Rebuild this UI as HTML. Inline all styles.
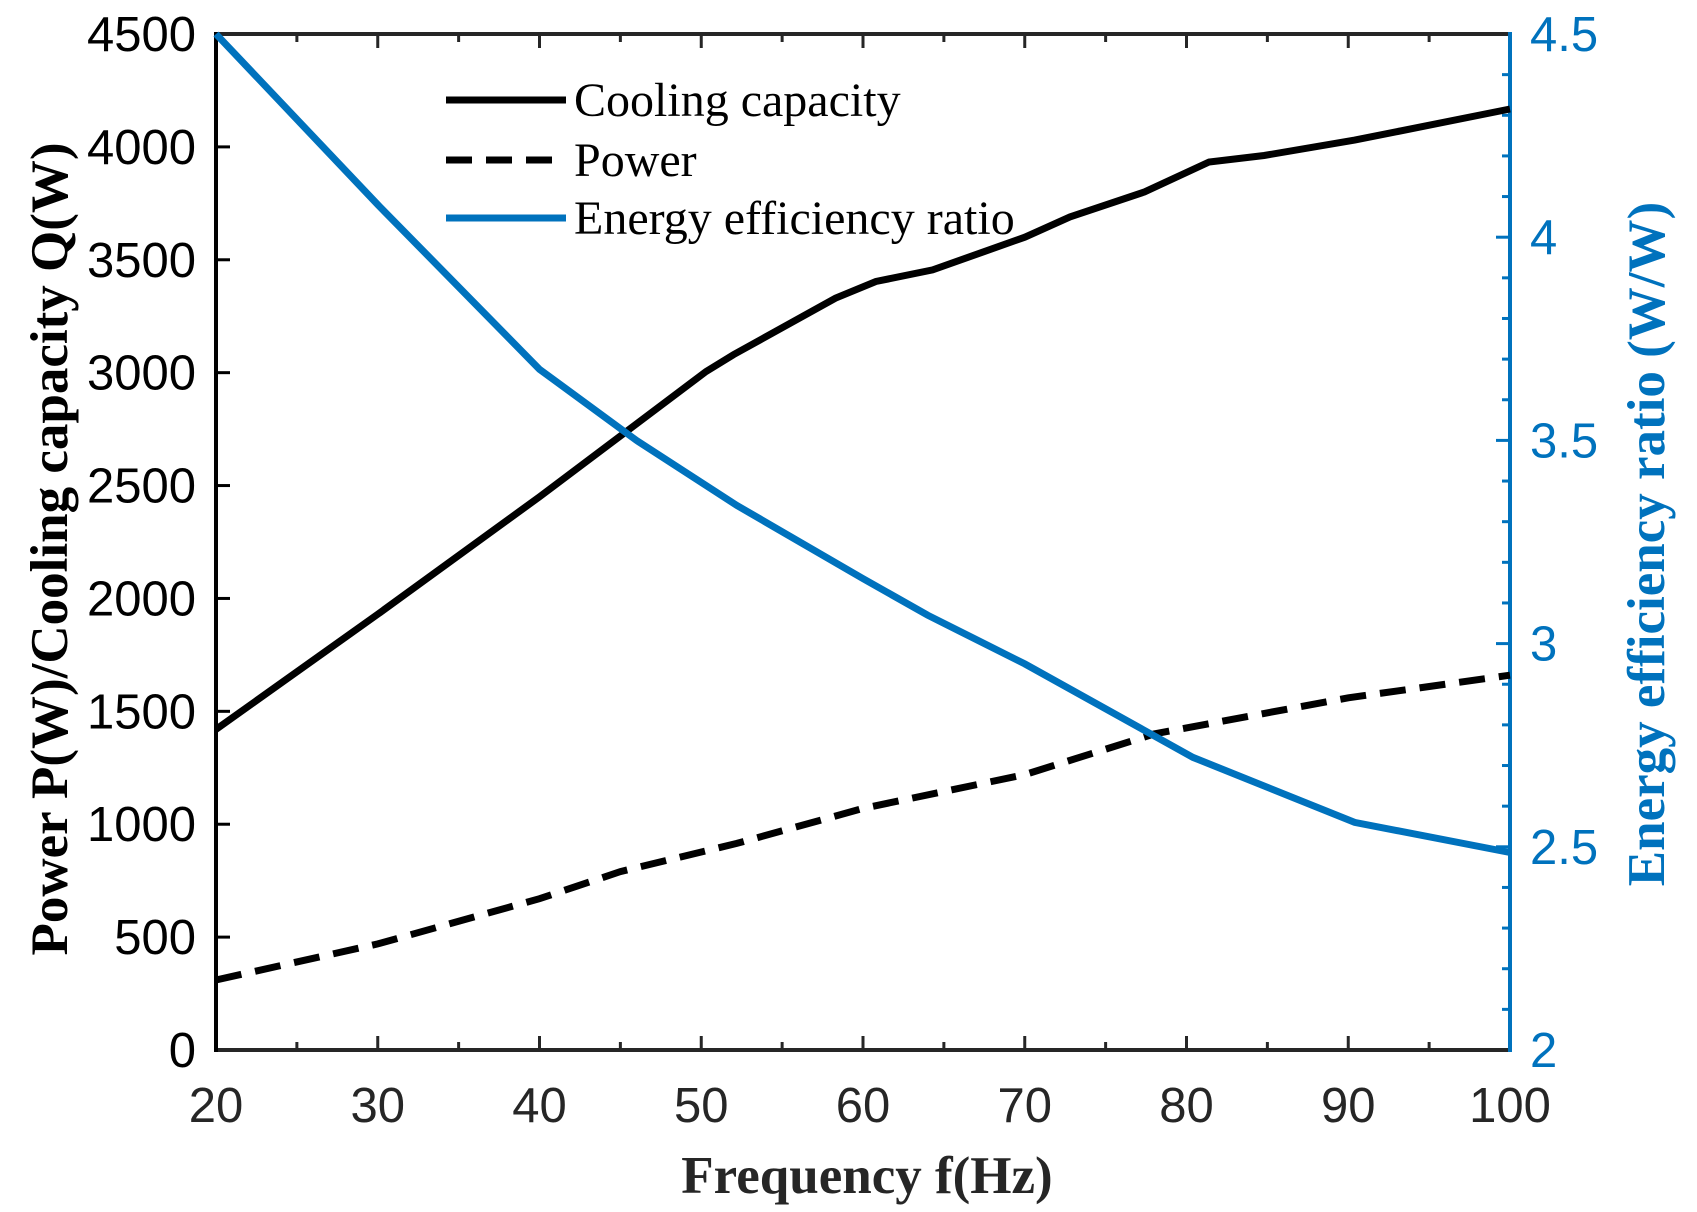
<!DOCTYPE html><html><head><meta charset="utf-8"><style>body{margin:0;background:#fff}svg{display:block}</style></head><body>
<svg id="s" width="1697" height="1212" viewBox="0 0 1697 1212" xmlns="http://www.w3.org/2000/svg"></svg>
<script>
const L=216,R=1510,T=34,B=1050;
const X=f=>L+(f-20)/80*(R-L), Y=v=>B-v/4500*(B-T), Y2=v=>B-(v-2)/2.5*(B-T);
let h='';
const line=(x1,y1,x2,y2,c,w,d)=>h+=`<line x1="${x1}" y1="${y1}" x2="${x2}" y2="${y2}" stroke="${c}" stroke-width="${w}" ${d?'stroke-dasharray="26,14"':''}/>`;
const txt=(x,y,t,a,c,extra='')=>h+=`<text x="${x}" y="${y}" text-anchor="${a}" fill="${c}" ${extra}>${t}</text>`;
const path=(pts,fx,fy,c,dash)=>h+=`<polyline fill="none" stroke="${c}" stroke-width="7" ${dash?'stroke-dasharray="26,14"':''} points="${pts.map(p=>fx(p[0]).toFixed(1)+','+fy(p[1]).toFixed(1)).join(' ')}"/>`;
const tf='font-family="Liberation Sans" font-size="49"';
for(let f=20;f<=100;f+=5){const x=X(f),l=f%10?8:14;line(x,B,x,B-l,'#262626',3);line(x,T,x,T+l,'#262626',3);}
for(let v=0;v<=4500;v+=500){line(L,Y(v),L+14,Y(v),'#000',3);txt(196,Y(v)+17,v,'end','#000',tf);}
for(let v=2;v<=4.501;v+=0.1){const y=Y2(v),maj=Math.abs(v*2-Math.round(v*2))<1e-6;line(R,y,R-(maj?14:8),y,'#0072BD',3);}
[2,2.5,3,3.5,4,4.5].forEach(v=>txt(1530,Y2(v)+17,v,'start','#0072BD',tf));
for(let f=20;f<=100;f+=10)txt(X(f),1122,f,'middle','#262626',tf);
line(L,B,R,B,'#262626',4);line(L,T,R,T,'#262626',4);line(L,T-2,L,B+2,'#000',4);line(R,T-2,R,B+2,'#0072BD',4);
path([[20,1420],[30,1930],[40,2450],[50.3,3005],[52,3080],[58.3,3330],[60.8,3404],[64.3,3455],[70,3600],[72.8,3690],[77.4,3800],[81.4,3933],[84.8,3962],[90.4,4030],[100,4168]],X,Y,'#000');
path([[20,310],[30,470],[40,670],[45,790],[52.2,915],[60,1070],[70,1220],[78,1400],[90,1560],[100,1660]],X,Y,'#000',1);
path([[20,4.5],[30,4.08],[40,3.675],[46,3.5],[52.2,3.34],[60,3.16],[64,3.07],[70,2.95],[80.4,2.72],[90.4,2.56],[100,2.486]],X,Y2,'#0072BD');
line(446,100,566,100,'#000',7);line(446,160,566,160,'#000',7,1);line(446,218,566,218,'#0072BD',7);
const lf='font-family="Liberation Serif" font-size="48"';
txt(574,116,'Cooling capacity','start','#000',lf);txt(574,176,'Power','start','#000',lf);txt(574,234,'Energy efficiency ratio','start','#000',lf);
const bf='font-family="Liberation Serif" font-size="53" font-weight="bold"';
txt(867,1193,'Frequency f(Hz)','middle','#262626',bf);
h+=`<text transform="translate(67,549) rotate(-90)" text-anchor="middle" fill="#000" ${bf}>Power P(W)/Cooling capacity Q(W)</text>`;
h+=`<text transform="translate(1664,544) rotate(-90)" text-anchor="middle" fill="#0072BD" ${bf}>Energy efficiency ratio (W/W)</text>`;
document.getElementById('s').innerHTML=h;
</script></body></html>
